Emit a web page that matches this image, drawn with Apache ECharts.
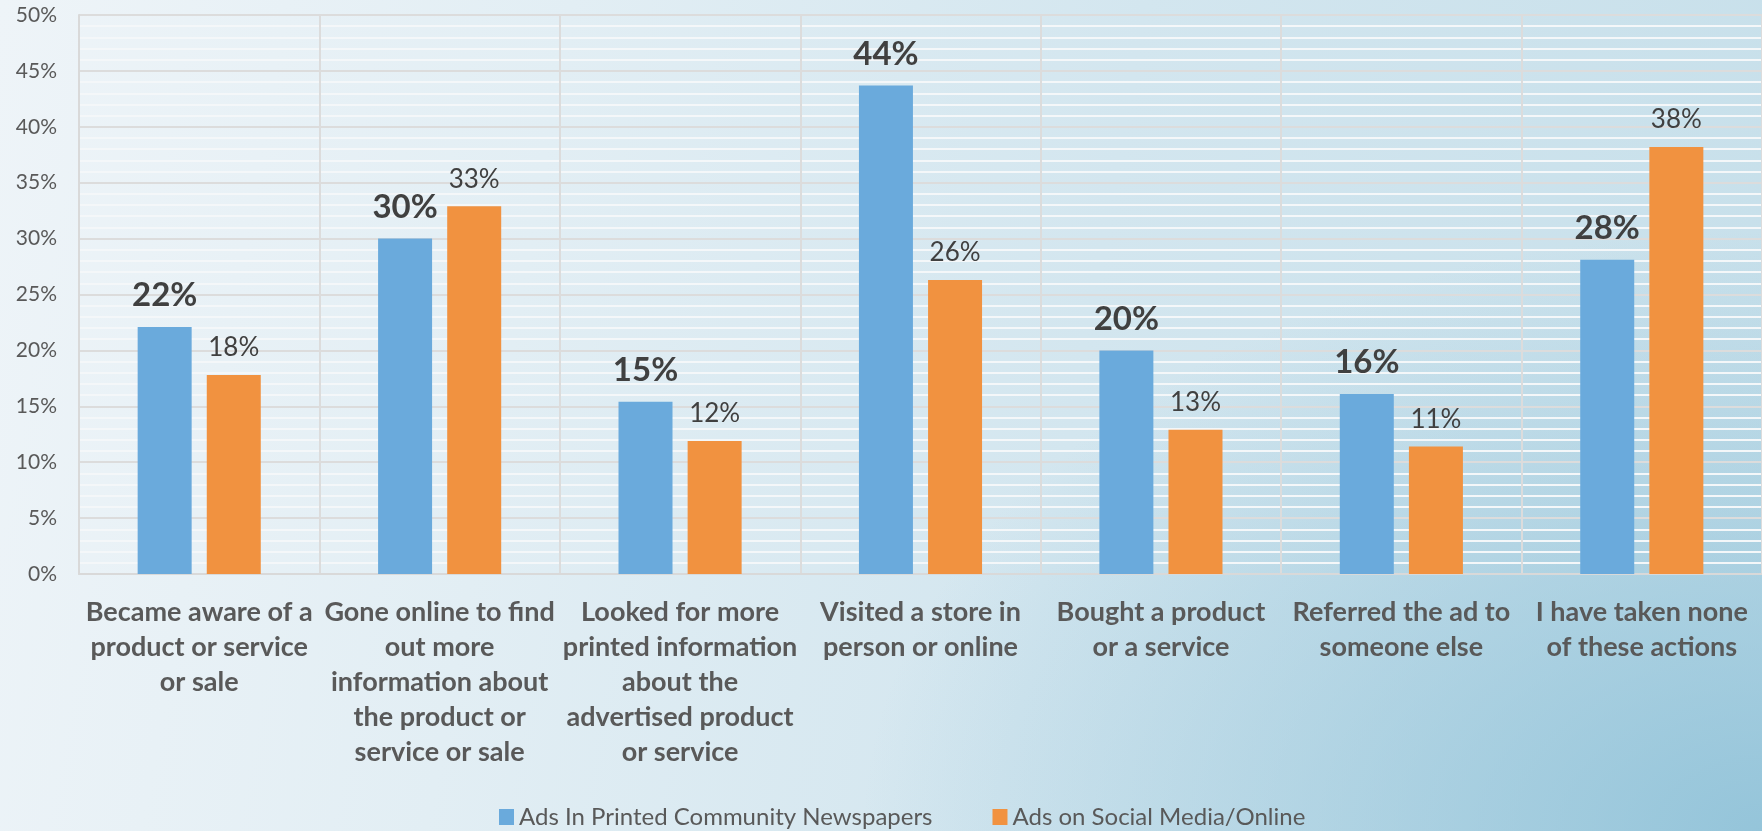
<!DOCTYPE html>
<html>
<head>
<meta charset="utf-8">
<script src="https://cdn.jsdelivr.net/npm/echarts@6/dist/echarts.min.js"></script>
<style>
html,body{margin:0;padding:0;width:1762px;height:831px;overflow:hidden;}
body{
  background:
    radial-gradient(ellipse 900px 600px at 100% 100%, rgba(140,192,215,0.85) 0%, rgba(140,192,215,0) 100%),
    linear-gradient(100deg, #eef4f8 0%, #e2eef4 30%, #d3e6ef 60%, #c6dfea 100%);
}
#chart{width:1762px;height:831px;}
</style>
</head>
<body>
<div id="chart"></div>
<script>
const categories = [
  'Became aware of a\nproduct or service\nor sale',
  'Gone online to find\nout more\ninformation about\nthe product or\nservice or sale',
  'Looked for more\nprinted information\nabout the\nadvertised product\nor service',
  'Visited a store in\nperson or online',
  'Bought a product\nor a service',
  'Referred the ad to\nsomeone else',
  'I have taken none\nof these actions'
];
const seriesNames = ['Ads In Printed Community Newspapers', 'Ads on Social Media/Online'];
const printedValues = [22.1, 30.0, 15.4, 43.7, 20.0, 16.1, 28.1];
const socialValues = [17.8, 32.9, 11.9, 26.3, 12.9, 11.4, 38.2];

const chart = echarts.init(document.getElementById('chart'));
const font = 'Lato, "Open Sans", sans-serif';
chart.setOption({
  backgroundColor: 'transparent',
  animation: false,
  textStyle: {fontFamily: font},
  grid: {left: 79, top: 15, width: 1688, height: 559, containLabel: false},
  legend: {
    left: 494, top: 800, padding: [5, 5, 5, 5],
    itemWidth: 15, itemHeight: 16, itemGap: 60,
    icon: 'rect',
    textStyle: {fontSize: 24, lineHeight: 24, color: '#595959', fontFamily: font},
    data: seriesNames
  },
  xAxis: {
    type: 'category',
    data: categories,
    axisLine: {show: true, lineStyle: {color: '#d9d9d9', width: 2}},
    axisTick: {show: false},
    splitLine: {show: true, interval: 0, lineStyle: {color: '#dcdcdc', width: 2}},
    axisLabel: {
      interval: 0, margin: 21, fontSize: 27, fontWeight: 'bold', color: '#595959',
      lineHeight: 35, fontFamily: font
    }
  },
  yAxis: {
    type: 'value', min: 0, max: 50, interval: 5,
    axisLine: {show: true, lineStyle: {color: '#d9d9d9', width: 2}},
    axisTick: {show: false},
    axisLabel: {formatter: '{value}%', fontSize: 21, color: '#595959', margin: 22, fontFamily: font},
    splitLine: {show: true, lineStyle: {color: '#dcdcdc', width: 2}},
    minorTick: {show: false, splitNumber: 5},
    minorSplitLine: {show: true, lineStyle: {color: '#f4f7f9', width: 2}}
  },
  series: [
    {
      name: seriesNames[0], type: 'bar', data: printedValues,
      barWidth: 54, barGap: '28%',
      itemStyle: {color: '#6aaadc'},
      label: {show: true, position: 'top', distance: 15, formatter: p => Math.round(p.value) + '%',
        fontSize: 33, fontWeight: 'bold', color: '#404040', fontFamily: font}
    },
    {
      name: seriesNames[1], type: 'bar', data: socialValues,
      barWidth: 54,
      itemStyle: {color: '#f19240'},
      label: {show: true, position: 'top', distance: 14, formatter: p => Math.round(p.value) + '%',
        fontSize: 26, color: '#404040', fontFamily: font}
    }
  ]
});
</script>
</body>
</html>
